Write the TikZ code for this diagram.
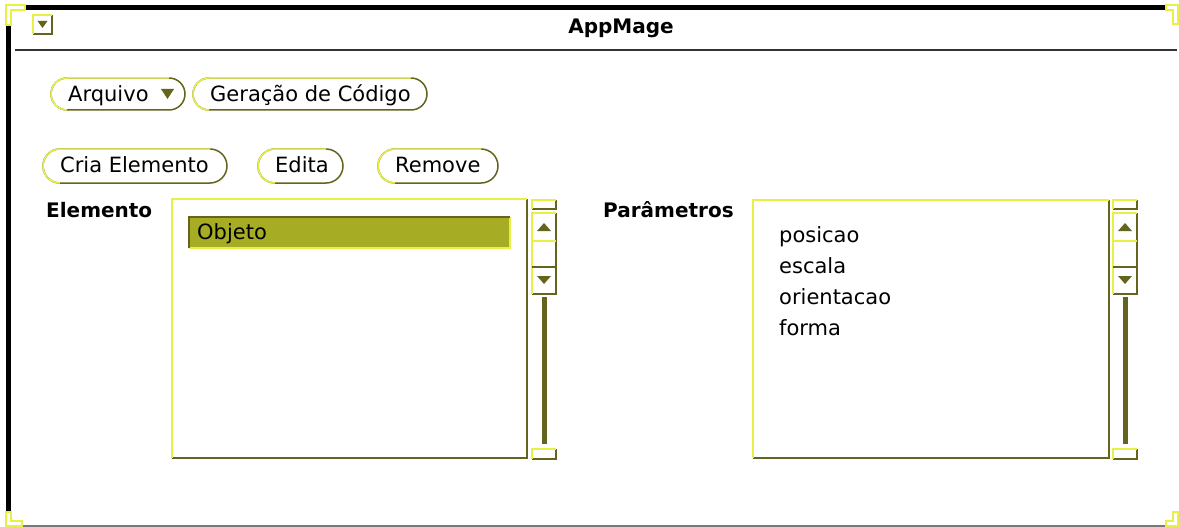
\documentclass[tikz,border=0pt]{standalone}
\usepackage{fontspec}
\setmainfont{DejaVu Sans}
\definecolor{ylw}{RGB}{232,240,70}
\definecolor{olv}{RGB}{100,100,30}
\definecolor{selc}{RGB}{166,173,36}
\definecolor{framegray}{RGB}{120,120,120}
\tikzset{
  txt/.style={inner sep=0pt, anchor=base west, font=\fontsize{21}{21}\selectfont, text=black},
  lbl/.style={inner sep=0pt, anchor=base west, font=\fontsize{20}{20}\selectfont\bfseries, text=black},
  hi/.style={draw=ylw, line width=1.5pt},
  lo/.style={draw=olv, line width=1.5pt},
}
\newcommand\raisedbox[4]{%
  \fill[white] (#1,#2) rectangle (#3,#4);
  \draw[lo] (#1,#4) -- (#3,#4) -- (#3,#2);
  \draw[hi] (#1,#4) -- (#1,#2) -- (#3,#2);
}
\newcommand\pillbtn[4]{%
  \pgfmathsetmacro\rr{(#4-#2)/2}
  \draw[lo, rounded corners=\rr pt] (#1,#2) rectangle (#3,#4);
  \draw[hi, rounded corners=\rr pt] (#1+\rr,#4) -- (#1,#4) -- (#1,#2) -- (#3-\rr,#2);
}
\newcommand\scrollbar[1]{% left x
  \raisedbox{#1}{200}{#1+24}{209}
  \raisedbox{#1}{213}{#1+24}{294}
  \draw[hi] (#1,241) -- (#1+24,241);
  \draw[lo] (#1,267) -- (#1+24,267);
  \fill[olv] (#1+5,231) -- (#1+19,231) -- (#1+12,223) -- cycle;
  \fill[olv] (#1+5,276) -- (#1+19,276) -- (#1+12,284) -- cycle;
  \fill[olv] (#1+10,297) rectangle (#1+15,444);
  \raisedbox{#1}{449}{#1+24}{459}
}
\begin{document}
\begin{tikzpicture}[x=1pt,y=-1pt]
\useasboundingbox[fill=white] (0,0) rectangle (1179,527);
% window frame
\fill[black] (25,5) rectangle (1166,10);
\fill[black] (6,25) rectangle (11,512);
\draw[black!80, line width=1.5pt] (15,50) -- (1177,50);
\draw[framegray, line width=1.5pt] (20,526) -- (1166,526);
\draw[hi, fill=white, line width=1.2pt] (6,25) -- (6,5) -- (25,5) -- (25,10) -- (11,10) -- (11,25) -- cycle;
\draw[hi, fill=white, line width=1.2pt] (1166,5) -- (1178,5) -- (1178,24) -- (1173,24) -- (1173,10) -- (1166,10) -- cycle;
\draw[hi, fill=white, line width=1.2pt] (6,512) -- (11,512) -- (11,521) -- (22,521) -- (22,526) -- (6,526) -- cycle;
\draw[hi, fill=white, line width=1.2pt] (1178,512) -- (1178,526) -- (1166,526) -- (1166,521) -- (1173,521) -- (1173,512) -- cycle;
% window menu button
\raisedbox{33}{15}{52}{34}
\fill[olv] (37.5,21) -- (47.5,21) -- (42.5,28) -- cycle;
\node[lbl, anchor=base] (title) at (621,34) {AppMage};
% menu row
\pillbtn{51}{78}{185}{110}
\node[txt] (arquivo) at (68,102) {Arquivo};
\fill[olv] (161,89) -- (174,89) -- (167.5,99) -- cycle;
\pillbtn{193}{78}{427}{110}
\node[txt] (geracao) at (210,102) {Geração de Código};
% button row
\pillbtn{43}{149}{227}{183}
\node[txt] (cria) at (60,172) {Cria Elemento};
\pillbtn{258}{149}{343}{183}
\node[txt] (edita) at (275,172) {Edita};
\pillbtn{378}{149}{498}{183}
\node[txt] (remove) at (395,172) {Remove};
% Elemento panel
\node[lbl] (elemento) at (46,217) {Elemento};
\raisedbox{172}{199}{527}{458}
\fill[selc] (189,217) rectangle (510,248);
\draw[draw=ylw, line width=1.2pt] (189,248) -- (510,248) -- (510,217);
\draw[draw=olv, line width=1.5pt] (189,248) -- (189,217) -- (510,217);
\node[txt] (objeto) at (197,239) {Objeto};
\scrollbar{532}
% Parametros panel
\node[lbl] (parametros) at (603,217) {Parâmetros};
\raisedbox{753}{200}{1109}{458}
\node[txt] (posicao) at (779,242) {posicao};
\node[txt] (escala) at (779,273) {escala};
\node[txt] (orientacao) at (779,304) {orientacao};
\node[txt] (forma) at (779,335) {forma};
\scrollbar{1113}
\end{tikzpicture}
\end{document}
